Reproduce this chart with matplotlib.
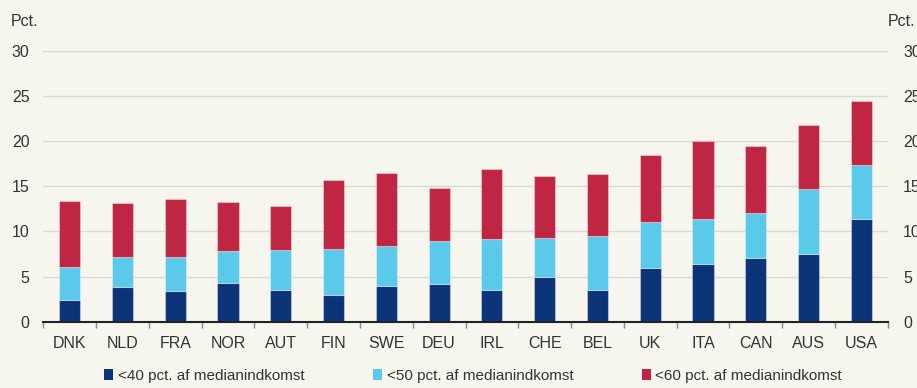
import numpy as np
import matplotlib
matplotlib.use("Agg")
import matplotlib.pyplot as plt
from matplotlib.patches import Patch

# Andel af befolkningen under fattigdomsgrænser (pct.), kumulative niveauer
countries = ["DNK", "NLD", "FRA", "NOR", "AUT", "FIN", "SWE", "DEU",
             "IRL", "CHE", "BEL", "UK", "ITA", "CAN", "AUS", "USA"]
below40 = [2.4, 3.8, 3.4, 4.3, 3.5, 3.0, 4.0, 4.2,
           3.5, 4.95, 3.55, 5.9, 6.4, 7.0, 7.45, 11.35]
below50 = [6.1, 7.2, 7.2, 7.8, 7.95, 8.05, 8.4, 8.95,
           9.1, 9.3, 9.45, 11.05, 11.4, 12.05, 14.7, 17.35]
below60 = [13.4, 13.15, 13.55, 13.3, 12.85, 15.65, 16.45, 14.8,
           16.85, 16.1, 16.35, 18.4, 19.95, 19.45, 21.75, 24.45]
labels = ["<40 pct. af medianindkomst", "<50 pct. af medianindkomst",
          "<60 pct. af medianindkomst"]

c_dark = "#0b3478"
c_light = "#5bc9ea"
c_red = "#bf2644"
bg = "#f6f5ee"
txt = "#333333"

plt.rcParams["font.family"] = ["Liberation Sans", "DejaVu Sans"]

fig = plt.figure(figsize=(9.17, 3.88), dpi=100, facecolor=bg)
ax = fig.add_axes([43.3 / 917, 66.3 / 388, 844.4 / 917, 271 / 388])
ax.set_facecolor(bg)

x = np.arange(len(countries))
b40 = np.array(below40)
b50 = np.array(below50)
b60 = np.array(below60)
w = 0.4
edge = dict(edgecolor=(1, 1, 1, 0.35), linewidth=0.8, zorder=3)
ax.bar(x, b40, w, color=c_dark, **edge)
ax.bar(x, b50 - b40, w, bottom=b40, color=c_light, **edge)
ax.bar(x, b60 - b50, w, bottom=b50, color=c_red, **edge)

ax.set_xlim(-0.5, len(countries) - 0.5)
ax.set_ylim(0, 30)
ax.set_yticks(range(0, 31, 5))
ax.yaxis.grid(True, color="#d9d8d1", linewidth=1.0, zorder=0)
ax.set_xticks(x)
ax.set_xticklabels(countries)
ax.set_xticks(np.arange(len(countries) + 1) - 0.5, minor=True)
ax.tick_params(axis="x", which="major", length=0, pad=10, labelsize=11.5, labelcolor=txt)
ax.tick_params(axis="x", which="minor", length=4, width=1, color="#8a8a8a", direction="out")
ax.tick_params(axis="y", length=0, pad=10, labelsize=11.5, labelcolor=txt)

for s in ["top", "right", "left"]:
    ax.spines[s].set_visible(False)
ax.spines["bottom"].set_color("#222222")
ax.spines["bottom"].set_linewidth(1.5)
ax.spines["bottom"].set_zorder(4)

# højre akse med samme skala
ax2 = ax.twinx()
ax2.set_ylim(0, 30)
ax2.set_yticks(range(0, 31, 5))
ax2.tick_params(axis="y", length=0, pad=11, labelsize=11.5, labelcolor=txt)
for s in ax2.spines.values():
    s.set_visible(False)

fig.text(11 / 917, 1 - 22 / 388, "Pct.", ha="left", va="center", fontsize=11.5, color=txt)
fig.text(888 / 917, 1 - 22 / 388, "Pct.", ha="left", va="center", fontsize=11.5, color=txt)

handles = [Patch(facecolor=c, edgecolor="none") for c in (c_dark, c_light, c_red)]
fig.legend(handles, labels, loc="center", bbox_to_anchor=(473 / 917, 1 - 376 / 388),
           ncol=3, frameon=False, fontsize=11, handlelength=0.6, handleheight=0.7,
           handletextpad=0.3, columnspacing=4.48, labelcolor=txt)

fig.savefig("out.png", dpi=100, facecolor=bg)
